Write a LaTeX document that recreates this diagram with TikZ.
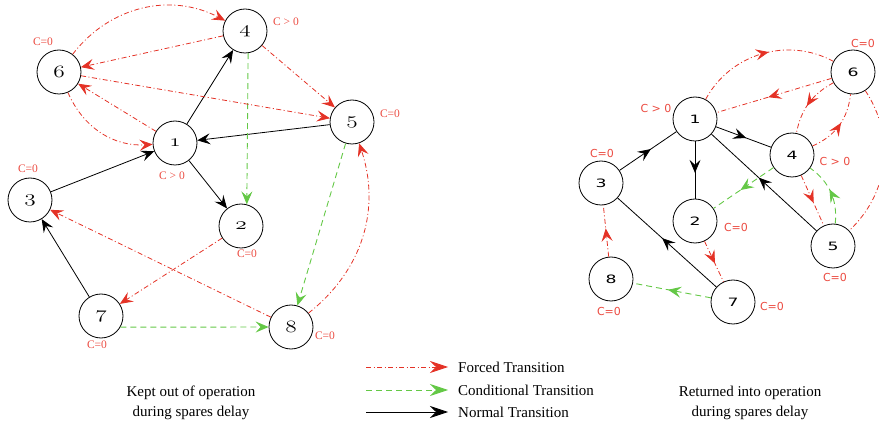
\documentclass[tikz,border=0pt]{standalone}
\usepackage{fontspec}
\usepackage{graphicx}
\setmainfont{Liberation Serif}
\newfontfamily\sanslbl{DejaVu Sans}
\newfontfamily\sansnum[FakeStretch=1.5]{DejaVu Sans}
\usetikzlibrary{arrows.meta,decorations.markings}
\definecolor{forcedred}{RGB}{228,50,38}
\definecolor{condgreen}{RGB}{100,200,70}
\definecolor{lblred}{RGB}{235,75,65}
\newcommand{\osn}[1]{\scalebox{1.35}[1]{\usefont{OML}{cmm}{m}{it}\fontsize{16}{16}\selectfont#1}}
\newcommand{\ssn}[1]{{\sansnum\fontsize{11.5}{11.5}\selectfont#1}}

\begin{document}
\begin{tikzpicture}[x=1pt,y=1pt,
  state/.style={draw,circle,line width=.8pt,minimum size=44pt,inner sep=0pt},
  forced/.style={draw=forcedred,line width=.8pt,dash pattern=on 5pt off 2.5pt on 1pt off 2.5pt},
  cond/.style={draw=condgreen,line width=.9pt,dash pattern=on 6pt off 4pt},
  normal/.style={draw=black,line width=.8pt},
  endarrow/.style={-{Stealth[length=13pt,width=11pt,inset=5pt]}},
  legarrow/.style={-{Stealth[length=18pt,width=12pt,inset=6pt]}},
  midarrow/.style={postaction={decorate},decoration={markings,mark=at position .55 with {\arrow{Stealth[length=13pt,width=11pt,inset=5pt]}}}},
  lbl/.style={text=lblred,font=\fontsize{11.5}{11.5}\selectfont,inner sep=0pt},
  rlbl/.style={text=lblred,font=\sanslbl\fontsize{11}{11}\selectfont,inner sep=0pt},
  legend/.style={font=\fontsize{15}{20}\selectfont,align=center,inner sep=0pt}]
\useasboundingbox (0,0) rectangle (879,-422);
% left graph
\node[state] (l1) at (175,-143) {\osn{1}};
\node[state] (l2) at (241,-226) {\osn{2}};
\node[state] (l3) at (30,-200) {\osn{3}};
\node[state] (l4) at (245,-31) {\osn{4}};
\node[state] (l5) at (352,-122) {\osn{5}};
\node[state] (l6) at (59,-72) {\osn{6}};
\node[state] (l7) at (101,-316) {\osn{7}};
\node[state] (l8) at (291,-327) {\osn{8}};
\node[lbl] (c6) at (43,-42) {C=0};
\node[lbl] (c4) at (286,-22) {C > 0};
\node[lbl] (c5) at (390,-114) {C=0};
\node[lbl] (c1) at (172,-176) {C > 0};
\node[lbl] (c3) at (28,-169) {C=0};
\node[lbl] (c2) at (247,-254) {C=0};
\node[lbl] (c7) at (97,-345) {C=0};
\node[lbl] (c8) at (325,-336) {C=0};
\draw[normal,endarrow] (l1) -- (l4);
\draw[normal,endarrow] (l5) -- (l1);
\draw[normal,endarrow] (l3) -- (l1);
\draw[normal,endarrow] (l1) -- (l2);
\draw[normal,endarrow] (l7) -- (l3);
\draw[cond,endarrow] (l4.-82) -- (l2.75);
\draw[cond,endarrow] (l5) -- (l8);
\draw[cond,endarrow] (l7.-30) -- (l8.west);
\draw[forced,endarrow] (l6) to[bend left=40] (l4);
\draw[forced,endarrow] (l4) -- (l6);
\draw[forced,endarrow] (l4) -- (l5);
\draw[forced,endarrow] (l6) -- (l5);
\draw[forced,endarrow] (l1) -- (l6);
\draw[forced,endarrow] (l6) to[bend right=35] (l1);
\draw[forced,endarrow] (l8) -- (l3);
\draw[forced,endarrow] (l2) -- (l7);
\draw[forced,endarrow] (l8) to[bend right=35] (l5);
% right graph
\node[state] (r1) at (695,-119) {\ssn{1}};
\node[state] (r2) at (695,-221) {\ssn{2}};
\node[state] (r3) at (601,-183) {\ssn{3}};
\node[state] (r4) at (792,-155) {\ssn{4}};
\node[state] (r5) at (833,-246) {\ssn{5}};
\node[state] (r6) at (853,-72) {\ssn{6}};
\node[state] (r7) at (733,-302) {\ssn{7}};
\node[state] (r8) at (611,-279) {\ssn{8}};
\node[rlbl] (d6) at (863,-43) {C=0};
\node[rlbl] (d1) at (656,-108) {C > 0};
\node[rlbl] (d3) at (602,-153) {C=0};
\node[rlbl] (d4) at (835,-161) {C > 0};
\node[rlbl] (d2) at (736,-227) {C=0};
\node[rlbl] (d5) at (835,-277) {C=0};
\node[rlbl] (d8) at (609,-311) {C=0};
\node[rlbl] (d7) at (772,-306) {C=0};
\draw[normal,midarrow] (r3) -- (r1);
\draw[normal,midarrow] (r1) -- (r2);
\draw[normal,midarrow] (r1) -- (r4);
\draw[normal,midarrow] (r5) -- (r1);
\draw[normal,midarrow] (r7) -- (r3);
\draw[cond,midarrow] (r4) -- (r2);
\draw[cond,midarrow] (r7) -- (r8);
\draw[cond,midarrow] (r5) to[bend right=30] (r4);
\draw[forced,midarrow] (r1) to[bend left=45] (r6);
\draw[forced,midarrow] (r6) -- (r1);
\draw[forced,midarrow] (r6) to[bend right=25] (r4);
\draw[forced,midarrow] (r4) to[bend right=30] (r6);
\draw[forced,midarrow] (r6) to[bend left=40] (r5);
\draw[forced,midarrow] (r4) -- (r5);
\draw[forced,midarrow] (r2) -- (r7);
\draw[forced,midarrow] (r8) -- (r3);
% legend
\coordinate (fa) at (366,-367);
\coordinate (fb) at (448,-367);
\coordinate (ga) at (366,-390);
\coordinate (gb) at (448,-390);
\coordinate (na) at (366,-412);
\coordinate (nb) at (448,-412);
\draw[forced,legarrow] (fa) -- (fb);
\draw[cond,legarrow] (ga) -- (gb);
\draw[normal,legarrow] (na) -- (nb);
\node[legend,anchor=west] (ftext) at (458,-367) {Forced Transition};
\node[legend,anchor=west] (gtext) at (458,-390) {Conditional Transition};
\node[legend,anchor=west] (ntext) at (458,-412) {Normal Transition};
\node[legend] (kept) at (191,-403) {Kept out of operation\\during spares delay};
\node[legend] (back) at (750,-403) {Returned into operation\\during spares delay};
\end{tikzpicture}
\end{document}
